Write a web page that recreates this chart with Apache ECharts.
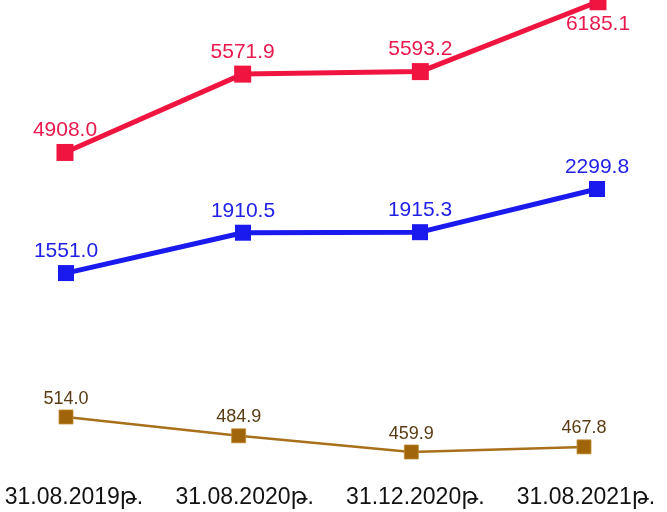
<!DOCTYPE html>
<html>
<head>
<meta charset="utf-8">
<script src="https://cdn.jsdelivr.net/npm/echarts@6/dist/echarts.min.js"></script>
<style>
html,body{margin:0;padding:0;background:#fff;}
#chart{width:667px;height:512px;}
</style>
</head>
<body>
<div id="chart"></div>
<script>
const categories = ['31.08.2019թ.', '31.08.2020թ.', '31.12.2020թ.', '31.08.2021թ.'];
const seriesRed = [4908.0, 5571.9, 5593.2, 6185.1];
const seriesBlue = [1551.0, 1910.5, 1915.3, 2299.8];
const seriesBrown = [514.0, 484.9, 459.9, 467.8];

const FONT = '"Liberation Sans", Arial, "DejaVu Sans", sans-serif';
const chart = echarts.init(document.getElementById('chart'), null, {renderer: 'canvas'});

function hiddenX(idx) {
  return {type: 'category', gridIndex: idx, data: categories, boundaryGap: false, show: false};
}
function hiddenY(idx, min, max) {
  return {type: 'value', gridIndex: idx, min: min, max: max, show: false};
}

chart.setOption({
  animation: false,
  backgroundColor: '#ffffff',
  grid: [
    {left: 65, right: 69, top: -5.8, height: 171},
    {left: 66, right: 70, top: 189, height: 89.8},
    {left: 66, right: 83, top: 413.1, height: 45.3},
    {left: 74, right: 81, top: 446, height: 32}
  ],
  xAxis: [
    hiddenX(0), hiddenX(1), hiddenX(2),
    {type: 'category', gridIndex: 3, data: categories, boundaryGap: false,
     axisLine: {show: false}, axisTick: {show: false},
     axisLabel: {show: true, margin: 8, fontSize: 23, color: '#111111', fontFamily: FONT, interval: 0}}
  ],
  yAxis: [
    hiddenY(0, 4800, 6200), hiddenY(1, 1500, 2300), hiddenY(2, 450, 520), hiddenY(3, 0, 1)
  ],
  series: [
    {
      type: 'line', xAxisIndex: 0, yAxisIndex: 0, clip: false,
      data: seriesRed.map((v, i) => i === seriesRed.length - 1
        ? {value: v, label: {position: 'bottom', distance: 3}} : v),
      symbol: 'rect', symbolSize: 17,
      lineStyle: {color: '#EF1540', width: 5},
      itemStyle: {color: '#EF1540'},
      label: {show: true, position: 'top', distance: 3, fontSize: 21, color: '#E8194C', fontFamily: FONT,
              formatter: p => p.value.toFixed(1)}
    },
    {
      type: 'line', xAxisIndex: 1, yAxisIndex: 1, clip: false,
      data: seriesBlue,
      symbol: 'rect', symbolSize: 16,
      lineStyle: {color: '#1A1AEE', width: 5},
      itemStyle: {color: '#1A1AEE'},
      label: {show: true, position: 'top', distance: 3, fontSize: 21, color: '#2020E6', fontFamily: FONT,
              formatter: p => p.value.toFixed(1)}
    },
    {
      type: 'line', xAxisIndex: 2, yAxisIndex: 2, clip: false,
      data: seriesBrown,
      symbol: 'rect', symbolSize: 14,
      lineStyle: {color: '#A8701A', width: 2.5},
      itemStyle: {color: '#A0640A', borderColor: '#C08A30', borderWidth: 0.8},
      label: {show: true, position: 'top', distance: 2, fontSize: 18, color: '#5A3C14',
              fontFamily: FONT,
              formatter: p => p.value.toFixed(1)}
    }
  ]
});
</script>
</body>
</html>
